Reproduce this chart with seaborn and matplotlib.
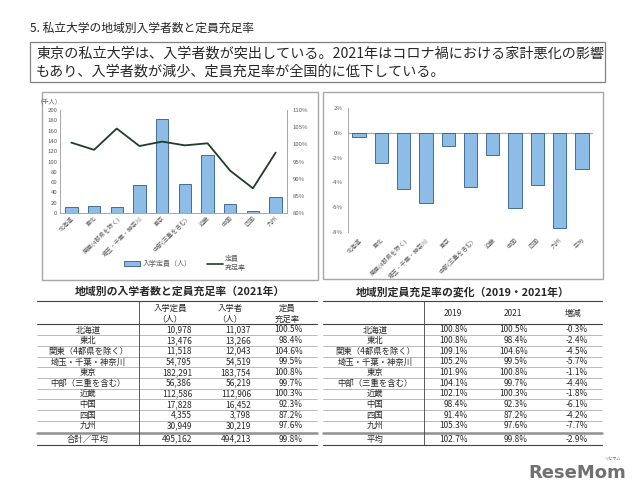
import numpy as np
import matplotlib.pyplot as plt
import matplotlib.lines as mlines
import matplotlib.patches as mpatches
import seaborn as sns
import pandas as pd

# data
regions = ["北海道", "東北", "関東(4都県を除く)", "埼玉・千葉・神奈川", "東京",
           "中部(三重を含む)", "近畿", "中国", "四国", "九州"]
table_regions = ["北海道", "東北", "関東（4都県を除く）", "埼玉・千葉・神奈川", "東京",
                 "中部（三重を含む）", "近畿", "中国", "四国", "九州"]
capacity = [10978, 13476, 11518, 54795, 182291, 56386, 112586, 17828, 4355, 30949]
enrolled = [11037, 13266, 12043, 54519, 183754, 56219, 112906, 16452, 3798, 30219]
fill_2021 = [100.5, 98.4, 104.6, 99.5, 100.8, 99.7, 100.3, 92.3, 87.2, 97.6]
fill_2019 = [100.8, 100.8, 109.1, 105.2, 101.9, 104.1, 102.1, 98.4, 91.4, 105.3]
change = [-0.3, -2.4, -4.5, -5.7, -1.1, -4.4, -1.8, -6.1, -4.2, -7.7]
total_capacity = 495162
total_enrolled = 494213
avg_2021 = 99.8
avg_2019 = 102.7
avg_change = -2.9
avg_label = "平均"

sns.set_style("white")
plt.rcParams["font.family"] = ["Noto Sans CJK JP", "DejaVu Sans"]

W, H = 640, 493
fig = plt.figure(figsize=(6.4, 4.93), dpi=100)


def fx(x):
    return x / W


def fy(y):
    return 1 - y / H


def hline(x0, x1, y, lw=0.5, color="#A0A0A0"):
    fig.add_artist(mlines.Line2D([fx(x0), fx(x1)], [fy(y), fy(y)],
                                 transform=fig.transFigure, lw=lw, color=color))


def vline(x, y0, y1, lw=0.6, color="#404040"):
    fig.add_artist(mlines.Line2D([fx(x), fx(x)], [fy(y0), fy(y1)],
                                 transform=fig.transFigure, lw=lw, color=color))


def rect(x0, y0, x1, y1, color="#A6A6A6", lw=1.0):
    fig.add_artist(mpatches.Rectangle((fx(x0), fy(y1)), fx(x1) - fx(x0), fy(y0) - fy(y1),
                                      transform=fig.transFigure, fill=False,
                                      edgecolor=color, lw=lw))


bar_color = "#8DBCE6"
bar_edge = "#2F5B85"
line_color = "#1E3D2C"
tick_color = "#595959"

# header texts
fig.text(fx(30), fy(28), "5. 私立大学の地域別入学者数と定員充足率", fontsize=8.5,
         va="center", ha="left", color="#222222")
rect(30, 42, 605, 82, color="#808080", lw=0.9)
fig.text(fx(36), fy(54), "東京の私立大学は、入学者数が突出している。2021年はコロナ禍における家計悪化の影響",
         fontsize=10.15, va="center", ha="left")
fig.text(fx(36), fy(72), "もあり、入学者数が減少、定員充足率が全国的に低下している。",
         fontsize=10.15, va="center", ha="left")

# left chart
rect(42, 92, 318, 280)
ax = fig.add_axes([fx(60), fy(213), fx(287) - fx(60), fy(110) - fy(213)])
df = pd.DataFrame({"region": regions, "capacity": np.array(capacity) / 1000,
                   "fill": fill_2021, "pos": np.arange(len(regions))})
sns.barplot(data=df, x="region", y="capacity", ax=ax, color=bar_color,
            edgecolor=bar_edge, linewidth=0.6, width=0.55, saturation=1)
ax.set_ylim(0, 200)
ax.set_xlim(-0.5, len(regions) - 0.5)
ax.set_yticks(range(0, 201, 20))
ax.set_xlabel("")
ax.set_ylabel("")
ax.tick_params(axis="both", length=0, labelsize=4.3, colors=tick_color, pad=2)
ax.set_xticks(range(len(regions)))
ax.set_xticklabels(regions, rotation=45, ha="right", rotation_mode="anchor")
for s in ["top", "right"]:
    ax.spines[s].set_visible(False)
for s in ["left", "bottom"]:
    ax.spines[s].set_color("#A6A6A6")
    ax.spines[s].set_linewidth(0.7)

ax2 = ax.twinx()
sns.lineplot(data=df, x="pos", y="fill", ax=ax2, color=line_color, lw=1.3)
ax2.set_ylim(80, 110)
ax2.set_yticks(range(80, 111, 5))
ax2.set_yticklabels([f"{v}%" for v in range(80, 111, 5)])
ax2.set_ylabel("")
ax2.tick_params(axis="y", length=0, labelsize=4.3, colors=tick_color, pad=4)
for s in ["top", "left", "bottom"]:
    ax2.spines[s].set_visible(False)
ax2.spines["right"].set_color("#A6A6A6")
ax2.spines["right"].set_linewidth(0.7)
fig.text(fx(49), fy(101), "（千人）", fontsize=4.5, ha="center", va="center", color=tick_color)

handles = [mpatches.Patch(facecolor=bar_color, edgecolor=bar_edge, lw=0.6),
           mlines.Line2D([], [], color=line_color, lw=1.2)]
fig.legend(handles, ["入学定員（人）", "定員\n充足率"], loc="center left",
           bbox_to_anchor=(fx(118), fy(263)), ncol=2, frameon=False, fontsize=5,
           handlelength=2.3, handleheight=0.6, handletextpad=0.3,
           columnspacing=2.2, labelcolor=tick_color)

# right chart
rect(323, 92, 603, 279)
axr = fig.add_axes([fx(348), fy(232), fx(593) - fx(348), fy(108) - fy(232)])
right_labels = regions + [avg_label]
dfr = pd.DataFrame({"region": right_labels, "change": change + [avg_change]})
sns.barplot(data=dfr, x="region", y="change", ax=axr, color=bar_color,
            edgecolor=bar_edge, linewidth=0.6, width=0.6, saturation=1)
axr.set_ylim(-8, 2)
axr.set_xlim(-0.5, len(right_labels) - 0.5)
axr.set_yticks(range(-8, 3, 2))
axr.set_yticklabels([f"{v}%" for v in range(-8, 3, 2)])
axr.axhline(0, color="#A6A6A6", lw=0.8, zorder=0)
axr.set_xlabel("")
axr.set_ylabel("")
axr.tick_params(axis="both", length=0, labelsize=4.3, colors=tick_color, pad=4)
axr.set_xticks(range(len(right_labels)))
axr.set_xticklabels(right_labels, rotation=45, ha="right", rotation_mode="anchor")
for s in ["top", "right", "bottom"]:
    axr.spines[s].set_visible(False)
axr.spines["left"].set_color("#A6A6A6")
axr.spines["left"].set_linewidth(0.7)

# tables
fs = 6
row_y = [330 + i * 10.65 for i in range(len(regions))]
total_y = 439

# left table
fig.text(fx(180), fy(292), "地域別の入学者数と定員充足率（2021年）", fontsize=7.8,
         fontweight="bold", ha="center", va="center")
hline(37, 317, 301, lw=0.8, color="#404040")
hline(37, 317, 324, lw=0.8, color="#404040")
for hx, h1, h2 in [(170, "入学定員", "（人）"), (230, "入学者", "（人）"), (287, "定員", "充足率")]:
    fig.text(fx(hx), fy(308), h1, fontsize=fs, ha="center", va="center")
    fig.text(fx(hx), fy(319), h2, fontsize=fs, ha="center", va="center")
for i, y in enumerate(row_y):
    fig.text(fx(88), fy(y), table_regions[i], fontsize=fs, ha="center", va="center")
    fig.text(fx(192), fy(y), f"{capacity[i]:,}", fontsize=fs, ha="right", va="center")
    fig.text(fx(251), fy(y), f"{enrolled[i]:,}", fontsize=fs, ha="right", va="center")
    fig.text(fx(303), fy(y), f"{fill_2021[i]:.1f}%", fontsize=fs, ha="right", va="center")
    if i < len(row_y) - 1:
        hline(37, 317, y + 5.3)
hline(37, 317, 433, lw=1.8, color="#909090")
fig.text(fx(88), fy(total_y), "合計／平均", fontsize=fs, ha="center", va="center")
fig.text(fx(192), fy(total_y), f"{total_capacity:,}", fontsize=fs, ha="right", va="center")
fig.text(fx(251), fy(total_y), f"{total_enrolled:,}", fontsize=fs, ha="right", va="center")
fig.text(fx(303), fy(total_y), f"{avg_2021:.1f}%", fontsize=fs, ha="right", va="center")
hline(37, 317, 445, lw=0.8, color="#404040")
vline(139, 301, 445)

# right table
fig.text(fx(463), fy(292), "地域別定員充足率の変化（2019・2021年）", fontsize=7.8,
         fontweight="bold", ha="center", va="center")
hline(323, 602, 301, lw=0.8, color="#404040")
hline(323, 602, 324, lw=0.8, color="#404040")
for hx, h in [(453, "2019"), (513, "2021"), (573, "増減")]:
    fig.text(fx(hx), fy(313), h, fontsize=fs, ha="center", va="center")
for i, y in enumerate(row_y):
    fig.text(fx(375), fy(y), table_regions[i], fontsize=fs, ha="center", va="center")
    fig.text(fx(468), fy(y), f"{fill_2019[i]:.1f}%", fontsize=fs, ha="right", va="center")
    fig.text(fx(528), fy(y), f"{fill_2021[i]:.1f}%", fontsize=fs, ha="right", va="center")
    fig.text(fx(588), fy(y), f"{change[i]:.1f}%", fontsize=fs, ha="right", va="center")
    if i < len(row_y) - 1:
        hline(323, 602, y + 5.3)
hline(323, 602, 433, lw=1.8, color="#909090")
fig.text(fx(375), fy(total_y), avg_label, fontsize=fs, ha="center", va="center")
fig.text(fx(468), fy(total_y), f"{avg_2019:.1f}%", fontsize=fs, ha="right", va="center")
fig.text(fx(528), fy(total_y), f"{avg_2021:.1f}%", fontsize=fs, ha="right", va="center")
fig.text(fx(588), fy(total_y), f"{avg_change:.1f}%", fontsize=fs, ha="right", va="center")
hline(323, 602, 445, lw=0.8, color="#404040")
vline(424, 301, 445)

# logo
fig.text(fx(577), fy(473), "ReseMom", fontsize=13, fontweight="bold", color="#707070",
         ha="center", va="center", family="DejaVu Sans")
fig.text(fx(612), fy(459), "リセマム", fontsize=3, color="#707070", ha="center", va="center")

fig.savefig("out.png", dpi=100)
